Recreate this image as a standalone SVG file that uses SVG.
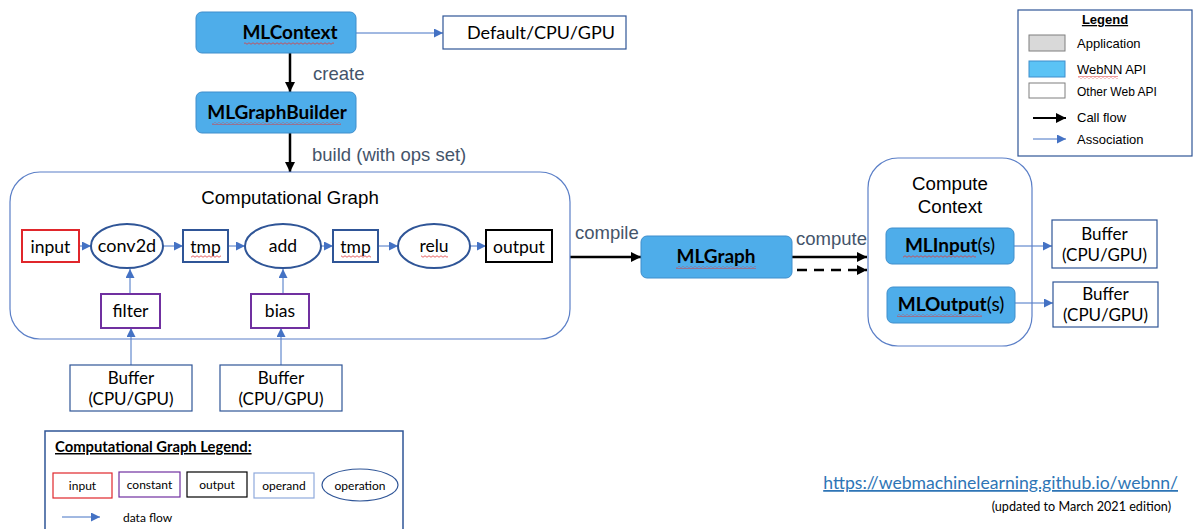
<svg xmlns="http://www.w3.org/2000/svg" width="1193" height="529" viewBox="0 0 1193 529">
  <style>
    .api { fill: #4EADEA; stroke: #3F8ECC; stroke-width: 1; }
    .plain { fill: #ffffff; stroke: #2F5597; stroke-width: 1.2; }
    .lbl { font-family: Lato, "Liberation Sans", sans-serif; fill: #000; }
    .b { font-weight: bold; }
    .arial { font-family: "Liberation Sans", Arial, sans-serif; }
    .verb { font-family: "Liberation Sans", Arial, sans-serif; font-size: 18.5px; fill: #44546A; }
    .cont { fill: none; stroke: #5B7FC7; stroke-width: 1.2; }
    .flow { stroke: #4472C4; stroke-width: 1; fill: none; }
    .call { stroke: #000; stroke-width: 2.5; fill: none; }
    .op { fill: #fff; stroke: #2F5597; stroke-width: 2; }
    .in { fill: #fff; stroke: #E0262B; stroke-width: 2; }
    .cst { fill: #fff; stroke: #7030A0; stroke-width: 2; }
    .out { fill: #fff; stroke: #000; stroke-width: 2; }
    .tmp { fill: #fff; stroke: #2F5597; stroke-width: 2; }
    .sq { fill: url(#squiggle); }
  </style>
  <defs>
    <marker id="blueHead" viewBox="0 0 10 10" refX="10" refY="5" markerWidth="9" markerHeight="9" markerUnits="userSpaceOnUse" orient="auto">
      <path d="M0,0 L10,5 L0,10 z" fill="#4472C4"/>
    </marker>
    <marker id="blackHead" viewBox="0 0 10 10" refX="10" refY="5" markerWidth="10" markerHeight="10" markerUnits="userSpaceOnUse" orient="auto">
      <path d="M0,0 L10,5 L0,10 z" fill="#000"/>
    </marker>
    <pattern id="squiggle" width="4" height="3" patternUnits="userSpaceOnUse">
      <path d="M0,1.5 Q1,0 2,1.5 T4,1.5" fill="none" stroke="#E03A3A" stroke-width="0.8"/>
    </pattern>
  </defs>

  <!-- connectors -->
  <g id="connectors">
    <line class="flow" x1="356" y1="33" x2="443" y2="33" marker-end="url(#blueHead)"/>
    <line class="call" x1="290" y1="53" x2="290" y2="92" marker-end="url(#blackHead)"/>
    <line class="call" x1="290" y1="133" x2="290" y2="172" marker-end="url(#blackHead)"/>
    <!-- graph data flow -->
    <line class="flow" x1="79" y1="246" x2="91" y2="246" marker-end="url(#blueHead)"/>
    <line class="flow" x1="163" y1="246" x2="183" y2="246" marker-end="url(#blueHead)"/>
    <line class="flow" x1="228" y1="246" x2="245" y2="246" marker-end="url(#blueHead)"/>
    <line class="flow" x1="321" y1="246" x2="333" y2="246" marker-end="url(#blueHead)"/>
    <line class="flow" x1="378" y1="246" x2="398" y2="246" marker-end="url(#blueHead)"/>
    <line class="flow" x1="470" y1="246" x2="486" y2="246" marker-end="url(#blueHead)"/>
    <line class="flow" x1="130" y1="294" x2="130" y2="269" marker-end="url(#blueHead)"/>
    <line class="flow" x1="283" y1="294" x2="283" y2="269" marker-end="url(#blueHead)"/>
    <line class="flow" x1="131" y1="365" x2="131" y2="328" marker-end="url(#blueHead)"/>
    <line class="flow" x1="281" y1="365" x2="281" y2="328" marker-end="url(#blueHead)"/>
    <!-- compile / compute -->
    <line class="call" x1="570" y1="257" x2="641" y2="257" marker-end="url(#blackHead)"/>
    <line class="call" x1="792" y1="257" x2="867" y2="257" marker-end="url(#blackHead)"/>
    <line class="call" x1="797" y1="270" x2="867" y2="270" stroke-dasharray="10,7" marker-end="url(#blackHead)"/>
    <line class="flow" x1="1014" y1="246" x2="1052" y2="246" marker-end="url(#blueHead)"/>
    <line class="flow" x1="1015" y1="303" x2="1053" y2="303" marker-end="url(#blueHead)"/>
  </g>

  <!-- verb labels -->
  <text class="verb" x="313" y="80">create</text>
  <text class="verb" x="312" y="161">build (with ops set)</text>
  <text class="verb" x="575" y="239">compile</text>
  <text class="verb" x="796" y="245">compute</text>

  <g id="mlcontext">
    <rect class="api" x="196" y="12" width="160" height="41" rx="6"/>
    <text class="lbl b" x="290" y="39" font-size="19" text-anchor="middle">MLContext</text>
    <rect class="sq" x="244" y="42" width="90" height="3"/>
  </g>
  <g id="device">
    <rect class="plain" x="443" y="16" width="183" height="33"/>
    <text class="lbl" x="541" y="39" font-size="18" text-anchor="middle">Default/CPU/GPU</text>
  </g>
  <g id="mlgraphbuilder">
    <rect class="api" x="196" y="92" width="160" height="41" rx="6"/>
    <text class="lbl b" x="277" y="119" font-size="19" text-anchor="middle">MLGraphBuilder</text>
    <rect class="sq" x="212" y="122" width="129" height="3"/>
  </g>

  <g id="computational-graph">
    <rect class="cont" x="10" y="172" width="560" height="167" rx="30"/>
    <text class="arial" x="290" y="204" font-size="18.7" text-anchor="middle">Computational Graph</text>
  </g>
  <g id="input">
    <rect class="in" x="22" y="230" width="57" height="32"/>
    <text class="lbl" x="50.5" y="253" font-size="17.5" text-anchor="middle">input</text>
  </g>
  <g id="conv2d">
    <ellipse class="op" cx="127" cy="246" rx="36" ry="22"/>
    <text class="lbl" x="127" y="252" font-size="18" text-anchor="middle">conv2d</text>
  </g>
  <g id="tmp1">
    <rect class="tmp" x="183" y="230" width="45" height="32"/>
    <text class="lbl" x="205.5" y="253" font-size="17.5" text-anchor="middle">tmp</text>
    <rect class="sq" x="191" y="255" width="30" height="3"/>
  </g>
  <g id="add">
    <ellipse class="op" cx="283" cy="246" rx="38" ry="22"/>
    <text class="lbl" x="283" y="252" font-size="17.5" text-anchor="middle">add</text>
  </g>
  <g id="tmp2">
    <rect class="tmp" x="333" y="230" width="45" height="32"/>
    <text class="lbl" x="355.5" y="253" font-size="17.5" text-anchor="middle">tmp</text>
    <rect class="sq" x="341" y="255" width="30" height="3"/>
  </g>
  <g id="relu">
    <ellipse class="op" cx="434" cy="246" rx="36" ry="22"/>
    <text class="lbl" x="434" y="252" font-size="17.5" text-anchor="middle">relu</text>
    <rect class="sq" x="421" y="255" width="27" height="3"/>
  </g>
  <g id="output">
    <rect class="out" x="486" y="230" width="66" height="32"/>
    <text class="lbl" x="519" y="253" font-size="17.5" text-anchor="middle">output</text>
  </g>
  <g id="filter">
    <rect class="cst" x="101" y="294" width="59" height="34"/>
    <text class="lbl" x="130.5" y="317" font-size="17.5" text-anchor="middle">filter</text>
  </g>
  <g id="bias">
    <rect class="cst" x="251" y="294" width="58" height="34"/>
    <text class="lbl" x="280" y="317" font-size="17.5" text-anchor="middle">bias</text>
  </g>
  <g id="buffer-filter">
    <rect class="plain" x="70" y="365" width="122" height="46"/>
    <text class="lbl" x="131" y="384" font-size="17" text-anchor="middle">Buffer</text>
    <text class="lbl" x="131" y="405" font-size="17" text-anchor="middle">(CPU/GPU)</text>
  </g>
  <g id="buffer-bias">
    <rect class="plain" x="220" y="365" width="122" height="46"/>
    <text class="lbl" x="281" y="384" font-size="17" text-anchor="middle">Buffer</text>
    <text class="lbl" x="281" y="405" font-size="17" text-anchor="middle">(CPU/GPU)</text>
  </g>

  <g id="mlgraph">
    <rect class="api" x="641" y="236" width="151" height="42" rx="6"/>
    <text class="lbl b" x="716" y="263" font-size="19" text-anchor="middle">MLGraph</text>
    <rect class="sq" x="676" y="266" width="80" height="3"/>
  </g>

  <g id="compute-context">
    <rect class="cont" x="868" y="158" width="164" height="188" rx="30"/>
    <text class="arial" x="950" y="190" font-size="18.7" text-anchor="middle">Compute</text>
    <text class="arial" x="950" y="213" font-size="18.7" text-anchor="middle">Context</text>
  </g>
  <g id="mlinput">
    <rect class="api" x="886" y="228" width="128" height="36" rx="6"/>
    <text x="950" y="252" font-size="19" text-anchor="middle" class="lbl"><tspan font-weight="bold">MLInput</tspan>(s)</text>
    <rect class="sq" x="903" y="255" width="73" height="3"/>
  </g>
  <g id="mloutput">
    <rect class="api" x="887" y="287" width="128" height="36" rx="6"/>
    <text x="951" y="311" font-size="19" text-anchor="middle" class="lbl"><tspan font-weight="bold">MLOutput</tspan>(s)</text>
    <rect class="sq" x="897" y="314" width="85" height="3"/>
  </g>
  <g id="buffer-input">
    <rect class="plain" x="1052" y="220" width="105" height="48"/>
    <text class="lbl" x="1104.5" y="240" font-size="17" text-anchor="middle">Buffer</text>
    <text class="lbl" x="1104.5" y="261" font-size="17" text-anchor="middle">(CPU/GPU)</text>
  </g>
  <g id="buffer-output">
    <rect class="plain" x="1053" y="282" width="105" height="45"/>
    <text class="lbl" x="1105.5" y="300" font-size="17" text-anchor="middle">Buffer</text>
    <text class="lbl" x="1105.5" y="321" font-size="17" text-anchor="middle">(CPU/GPU)</text>
  </g>

  <!-- API legend -->
  <g id="legend">
    <rect x="1018" y="10" width="174" height="146" fill="#fff" stroke="#2F5597" stroke-width="1.2"/>
    <text class="arial b" x="1105" y="24" font-size="13" text-anchor="middle" text-decoration="underline">Legend</text>
    <rect x="1029" y="35" width="36" height="16" fill="#D9D9D9" stroke="#7F7F7F"/>
    <text class="arial" x="1077" y="48" font-size="13">Application</text>
    <rect x="1029" y="61" width="36" height="16" fill="#5BC3F5" stroke="#3F8ECC"/>
    <text class="arial" x="1077" y="74" font-size="13">WebNN API</text>
    <rect class="sq" x="1078" y="76" width="40" height="3"/>
    <rect x="1029" y="83" width="36" height="15" fill="#fff" stroke="#7F7F7F"/>
    <text class="arial" x="1077" y="96" font-size="12">Other Web API</text>
    <line x1="1033" y1="118" x2="1066" y2="118" stroke="#000" stroke-width="2" marker-end="url(#blackHead)"/>
    <text class="arial" x="1077" y="122" font-size="13">Call flow</text>
    <line class="flow" x1="1033" y1="139" x2="1066" y2="139" marker-end="url(#blueHead)"/>
    <text class="arial" x="1077" y="144" font-size="13">Association</text>
  </g>

  <!-- graph legend -->
  <g id="graph-legend">
    <rect x="45" y="431" width="358" height="110" fill="#fff" stroke="#2F5597" stroke-width="1.5"/>
    <text class="lbl b" x="55" y="452" font-size="14.8" text-decoration="underline">Computational Graph Legend:</text>
    <rect x="53" y="473" width="59" height="25" fill="#fff" stroke="#E0262B" stroke-width="1.2"/>
    <text class="lbl" x="82.5" y="490" font-size="12" text-anchor="middle">input</text>
    <rect x="119" y="472" width="61" height="25" fill="#fff" stroke="#7030A0" stroke-width="1.2"/>
    <text class="lbl" x="149.5" y="489" font-size="12" text-anchor="middle">constant</text>
    <rect x="187" y="472" width="60" height="25" fill="#fff" stroke="#000" stroke-width="1.2"/>
    <text class="lbl" x="217" y="489" font-size="12" text-anchor="middle">output</text>
    <rect x="254" y="473" width="60" height="25" fill="#fff" stroke="#8FAADC" stroke-width="1.2"/>
    <text class="lbl" x="284" y="490" font-size="12" text-anchor="middle">operand</text>
    <ellipse cx="360" cy="485" rx="38" ry="16" fill="#fff" stroke="#2F5597" stroke-width="1.2"/>
    <text class="lbl" x="360" y="490" font-size="12" text-anchor="middle">operation</text>
    <line class="flow" x1="62" y1="517" x2="100" y2="517" marker-end="url(#blueHead)"/>
    <text class="lbl" x="123" y="522" font-size="12">data flow</text>
  </g>

  <!-- reference link -->
  <text class="lbl" x="1178" y="489" font-size="17.6" text-anchor="end" style="fill:#2E75B6" text-decoration="underline">https://webmachinelearning.github.io/webnn/</text>
  <text class="lbl" x="1171" y="511" font-size="12.6" text-anchor="end">(updated to March 2021 edition)</text>
</svg>
